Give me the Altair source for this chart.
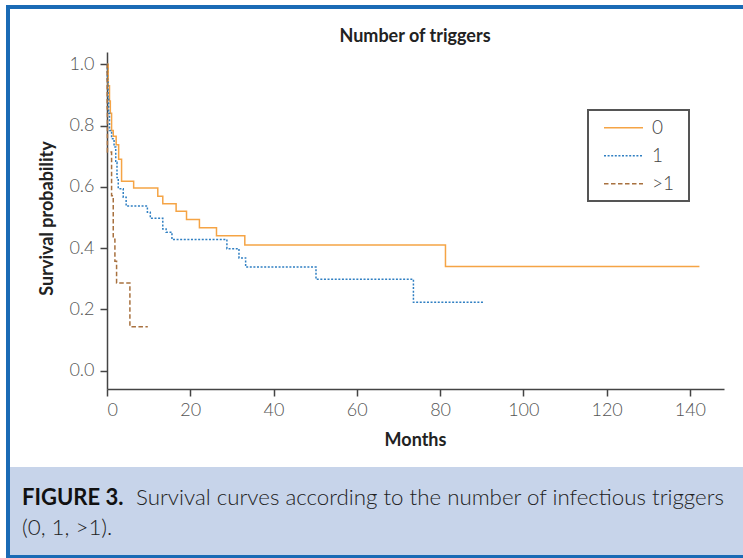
import altair as alt
import pandas as pd

# ---------------- data ----------------
groups = ["0", "1", ">1"]
colors = ["#f5a445", "#2f7fc2", "#a8713f"]
dashes = [[1, 0], [2, 1.6], [4.5, 2.5]]

t_g0 = [0, 0.3, 0.6, 0.8, 1.1, 1.5, 2.2, 2.8, 3.5, 6.4, 12.2, 13.4, 16.6, 19.1, 22.2, 26.3, 33.1, 81.3, 142.3]
s_g0 = [1.0, 0.93, 0.88, 0.84, 0.784, 0.765, 0.737, 0.69, 0.618, 0.596, 0.569, 0.545, 0.52, 0.493, 0.466, 0.44, 0.41, 0.34, 0.34]

t_g1 = [0, 0.1, 0.25, 0.4, 0.6, 1.1, 1.7, 2.1, 2.4, 2.7, 3.9, 4.6, 9.7, 10.4, 13.4, 14.2, 15.6, 28.8, 31.7, 33.3, 50.2, 73.6, 90.6]
s_g1 = [1.0, 0.95, 0.89, 0.84, 0.784, 0.757, 0.73, 0.68, 0.63, 0.594, 0.566, 0.537, 0.517, 0.497, 0.462, 0.452, 0.428, 0.398, 0.368, 0.338, 0.298, 0.223, 0.223]

t_g2 = [0, 0.05, 0.1, 1.1, 1.5, 1.9, 2.3, 5.5, 9.8]
s_g2 = [1.0, 0.857, 0.714, 0.571, 0.429, 0.357, 0.286, 0.143, 0.143]

x_ticks = [0, 20, 40, 60, 80, 100, 120, 140]
y_ticks = [0.0, 0.2, 0.4, 0.6, 0.8, 1.0]

chart_title = "Number of triggers"
caption_bold = "FIGURE 3."
caption_line1 = "Survival curves according to the number of infectious triggers"
caption_line2 = "(0, 1, >1)."

rows = []
for g, ts, ss in zip(groups, [t_g0, t_g1, t_g2], [s_g0, s_g1, s_g2]):
    for i, (t, s) in enumerate(zip(ts, ss)):
        rows.append({"group": g, "months": t, "surv": s, "idx": i})
df = pd.DataFrame(rows)

# ---------------- layout ----------------
OX, OY = 107, 52          # plot origin in page pixels
W, H = 617, 337           # plot area
TOTAL_W, TOTAL_H = 743, 558

def px(x):
    return x - OX

def py(y):
    return y - OY

FONT = "Lato"
one = pd.DataFrame({"k": [0]})

legend = alt.Legend(
    title=None, orient="none", legendX=px(603), legendY=py(114),
    symbolType="stroke", symbolSize=1521, symbolStrokeWidth=1.5,
    labelFont=FONT, labelFontSize=19, labelColor="#444444", labelFontWeight=300,
    labelOffset=8, clipHeight=27.5, rowPadding=0, padding=0,
)

lines = alt.Chart(df).mark_line(interpolate="step-after", strokeWidth=1.5).encode(
    x=alt.X("months:Q",
            scale=alt.Scale(domain=[0, 148.2], nice=False, zero=False),
            axis=alt.Axis(values=x_ticks, title="Months", grid=False,
                          domainColor="#444", domainWidth=1.5, tickColor="#444",
                          tickWidth=1.5, tickSize=7, labelPadding=5,
                          labelFont=FONT, labelFontSize=18, labelFontWeight=300,
                          labelColor="#555", titleFont=FONT, titleFontSize=18,
                          titleFontWeight="bold", titleColor="#222",
                          titleX=px(415), titleY=51, titleBaseline="middle")),
    y=alt.Y("surv:Q",
            scale=alt.Scale(domain=[-0.06, 1.04], nice=False, zero=False),
            axis=alt.Axis(values=y_ticks, format=".1f", title="Survival probability",
                          grid=False, domainColor="#444", domainWidth=1.5,
                          tickColor="#444", tickWidth=1.5, tickSize=7, labelPadding=6,
                          labelFont=FONT, labelFontSize=18, labelFontWeight=300,
                          labelColor="#555", titleFont=FONT, titleFontSize=18,
                          titleFontWeight="bold", titleColor="#222",
                          titleX=px(47), titleY=py(218), titleBaseline="middle")),
    color=alt.Color("group:N", scale=alt.Scale(domain=groups, range=colors), legend=legend),
    strokeDash=alt.StrokeDash("group:N", scale=alt.Scale(domain=groups, range=dashes), legend=legend),
    order="idx:Q",
)

# legend frame
legend_box = alt.Chart(one).mark_rect(fill=None, stroke="#555", strokeWidth=2).encode(
    x=alt.value(px(588)), x2=alt.value(px(689)), y=alt.value(py(110)), y2=alt.value(py(201)))

title_txt = alt.Chart(one).mark_text(font=FONT, fontSize=18, fontWeight="bold", color="#222",
                                     baseline="middle", align="center").encode(
    x=alt.value(px(415)), y=alt.value(py(37)), text=alt.value(chart_title))

# caption panel and frame
cap_bg = alt.Chart(one).mark_rect(fill="#c7d4ea").encode(
    x=alt.value(px(9)), x2=alt.value(px(743)), y=alt.value(py(467)), y2=alt.value(py(556)))
frame_top = alt.Chart(one).mark_rect(fill="#1a6bb5").encode(
    x=alt.value(px(6)), x2=alt.value(px(743)), y=alt.value(py(5)), y2=alt.value(py(9)))
frame_left = alt.Chart(one).mark_rect(fill="#1a6bb5").encode(
    x=alt.value(px(6)), x2=alt.value(px(10)), y=alt.value(py(5)), y2=alt.value(py(558)))
frame_bottom = alt.Chart(one).mark_rect(fill="#1a6bb5").encode(
    x=alt.value(px(6)), x2=alt.value(px(743)), y=alt.value(py(555)), y2=alt.value(py(558)))

cap_b = alt.Chart(one).mark_text(font=FONT, fontSize=22, fontWeight="bold", color="#111",
                                 baseline="middle", align="left").encode(
    x=alt.value(px(22)), y=alt.value(py(498)), text=alt.value(caption_bold))
cap_1 = alt.Chart(one).mark_text(font=FONT, fontSize=22.3, fontWeight=300, color="#222",
                                 baseline="middle", align="left").encode(
    x=alt.value(px(136)), y=alt.value(py(498)), text=alt.value(caption_line1))
cap_2 = alt.Chart(one).mark_text(font=FONT, fontSize=22.3, fontWeight=300, color="#222",
                                 baseline="middle", align="left").encode(
    x=alt.value(px(22)), y=alt.value(py(528)), text=alt.value(caption_line2))

chart = alt.layer(
    cap_bg, frame_top, frame_left, frame_bottom, lines, legend_box, title_txt, cap_b, cap_1, cap_2
).properties(
    width=W, height=H,
    autosize=alt.AutoSizeParams(type="none"),
    padding={"left": OX, "top": OY, "right": TOTAL_W - OX - W, "bottom": TOTAL_H - OY - H},
    background="white",
).configure_view(stroke=None).configure_legend(labelColor="#444444")

chart.save("out.html", embed_options={"renderer": "svg", "actions": False})
